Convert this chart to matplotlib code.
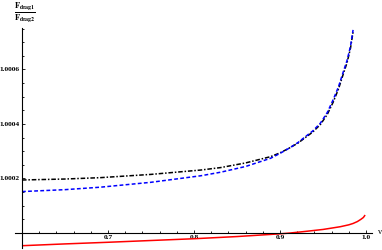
import matplotlib
matplotlib.use("Agg")
import matplotlib.pyplot as plt
import numpy as np
from matplotlib.ticker import FixedLocator, FixedFormatter

# data: deviations from 1, in units of 1e-4
v_black = [0.600, 0.650, 0.691, 0.750, 0.808, 0.831, 0.860, 0.889, 0.900, 0.910, 0.921, 0.929,
           0.938, 0.947, 0.955, 0.962, 0.968, 0.974, 0.978, 0.982, 0.985]
d_black = [1.945, 1.98, 2.03, 2.15, 2.31, 2.40, 2.57, 2.80, 2.94, 3.10, 3.30, 3.49,
           3.70, 3.98, 4.35, 4.81, 5.28, 5.87, 6.25, 6.78, 7.38]

v_blue = [0.600, 0.650, 0.691, 0.750, 0.808, 0.831, 0.860, 0.889, 0.900, 0.910, 0.921, 0.929,
          0.938, 0.947, 0.955, 0.962, 0.968, 0.974, 0.978, 0.982, 0.985]
d_blue = [1.52, 1.59, 1.68, 1.86, 2.10, 2.23, 2.44, 2.74, 2.92, 3.10, 3.32, 3.52,
          3.74, 4.03, 4.42, 4.90, 5.36, 5.95, 6.33, 6.85, 7.45]

v_red = [0.600, 0.650, 0.700, 0.750, 0.800, 0.850, 0.900, 0.912, 0.930, 0.950, 0.960, 0.970,
         0.980, 0.985, 0.990, 0.994, 0.997, 0.999]
d_red = [-0.466, -0.40, -0.34, -0.275, -0.21, -0.13, -0.03, 0.0, 0.06, 0.13, 0.18, 0.23,
         0.30, 0.35, 0.42, 0.50, 0.57, 0.66]

x_major = [0.7, 0.8, 0.9, 1.0]
x_labels = ["0.7", "0.8", "0.9", "1.0"]
y_major = [1.0002, 1.0004, 1.0006]
y_labels = ["1.0002", "1.0004", "1.0006"]

plt.rcParams['mathtext.fontset'] = 'stix'
W, H = 382, 250
fig = plt.figure(figsize=(W / 100, H / 100), dpi=100)
# axes box in pixels: left 15, right 372, top 28, bottom 248
ax = fig.add_axes([15 / W, 1 - 248 / H, (372 - 15) / W, (248 - 28) / H])
ax.set_xlim(0.5919, 1.0070)
ax.set_ylim(1 - 0.000055, 1 + 0.000752)

def to_y(d):
    return 1 + np.array(d) * 1e-4

ax.plot(v_red, to_y(d_red), color='#ff0000', lw=1.1, solid_capstyle='butt')
ax.plot(v_black, to_y(d_black), color='black', lw=1.1, linestyle=(0, (3, 1.2, 1, 1.2)))
ax.plot(v_blue, to_y(d_blue), color='#0000ff', lw=1.1, linestyle=(0, (2.5, 1.5)))

for s in ['top', 'right']:
    ax.spines[s].set_visible(False)
ax.spines['left'].set_position(('data', 0.6))
ax.spines['bottom'].set_position(('data', 1.0))
for s in ['left', 'bottom']:
    ax.spines[s].set_linewidth(0.8)

ax.xaxis.set_major_locator(FixedLocator(x_major))
ax.xaxis.set_major_formatter(FixedFormatter(x_labels))
ax.xaxis.set_minor_locator(FixedLocator(list(np.arange(0.62, 1.001, 0.02))))
ax.yaxis.set_major_locator(FixedLocator(y_major))
ax.yaxis.set_major_formatter(FixedFormatter(y_labels))
ax.yaxis.set_minor_locator(FixedLocator(list(np.arange(1.00005, 1.00076, 0.00005))))

ax.tick_params(which='both', direction='in', width=0.6, labelsize=5.3, pad=1.5)
ax.tick_params(which='major', length=2.2)
ax.tick_params(which='minor', length=1.3)
for lab in ax.get_xticklabels() + ax.get_yticklabels():
    lab.set_family('Liberation Serif')
    lab.set_weight('bold')

fig.text(380 / W, 1 - 232 / H, 'v', family='Liberation Serif', fontsize=6,
         ha='center', va='center')
fig.text(25 / W, 1 - 12.5 / H,
         r'$\frac{\mathbf{F}_{\mathbf{drag1}}}{\mathbf{F}_{\mathbf{drag2}}}$',
         fontsize=8.5, ha='center', va='center')

fig.savefig('out.png', dpi=100)
